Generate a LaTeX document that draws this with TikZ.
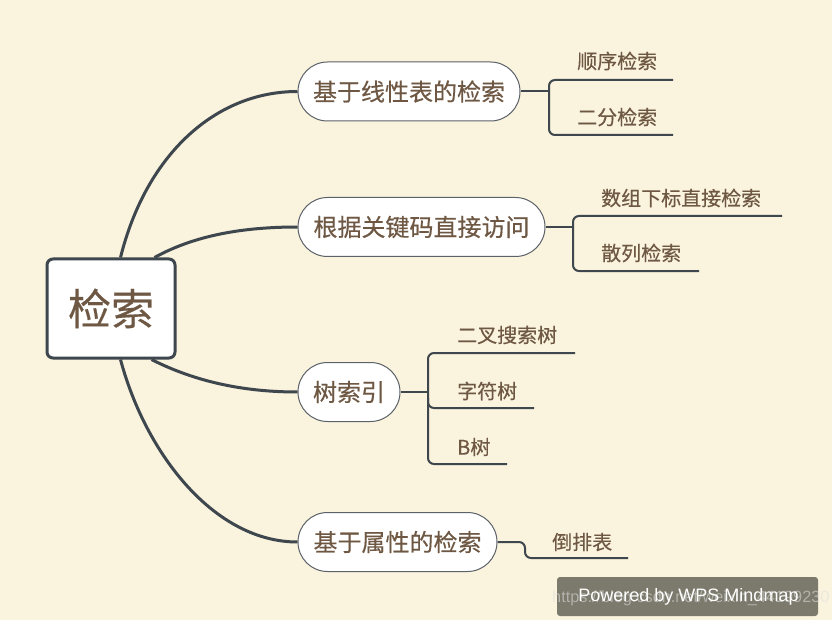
\documentclass[tikz,border=0pt]{standalone}
\usepackage{fontspec}
\setmainfont{Noto Sans CJK SC}[FakeBold=0.35]
\newfontfamily\latinfont{Liberation Sans}
\usetikzlibrary{calc}
\definecolor{bg}{HTML}{FAF3DD}
\definecolor{txt}{HTML}{6E5843}
\definecolor{ln}{HTML}{3E464E}
\definecolor{wmbox}{HTML}{7C7A6C}
\begin{document}
\begin{tikzpicture}[x=1pt,y=-1pt,
  rootbox/.style={draw=ln, line width=3pt, fill=white, rounded corners=6pt, text=txt,
     font=\fontsize{43}{43}\selectfont, inner sep=0pt, minimum width=128pt, minimum height=99pt},
  pill/.style={draw=ln!85, line width=1pt, fill=white, rounded corners=29.5pt, text=txt,
     font=\fontsize{24}{24}\selectfont, inner sep=0pt, minimum height=59pt},
  leaf/.style={text=txt, font=\fontsize{20}{20}\selectfont, inner sep=0pt, anchor=west},
  branch/.style={draw=ln, line width=3pt},
  leafline/.style={draw=ln, line width=2pt, rounded corners=6pt}]
\fill[bg] (0,0) rectangle (832,620);
\useasboundingbox (0,0) rectangle (832,620);

% root
\node[rootbox] (root) at (111,308.5) {检索};

% main branches
\node[pill, minimum width=222pt] (p1) at (409,91.5) {基于线性表的检索};
\node[pill, minimum width=247pt] (p2) at (421.5,227) {根据关键码直接访问};
\node[pill, minimum width=102pt] (p3) at (349,392) {树索引};
\node[pill, minimum width=199pt] (p4) at (397.5,542) {基于属性的检索};

\draw[branch] ([xshift=75pt]root.north west) .. controls (146,155) and (215,91.5) .. (p1.west);
\draw[branch] ([xshift=109pt]root.north west) .. controls (190,238) and (235,227) .. (p2.west);
\draw[branch] ([xshift=106pt]root.south west) .. controls (188,378) and (235,392) .. (p3.west);
\draw[branch] ([xshift=75pt]root.south west) .. controls (146,455) and (215,542) .. (p4.west);

% leaves
\node[leaf] (l11) at (577,61) {顺序检索};
\node[leaf] (l12) at (577,117) {二分检索};
\node[leaf] (l21) at (601,198) {数组下标直接检索};
\node[leaf] (l22) at (601,253) {散列检索};
\node[leaf] (l31) at (457,335) {二叉搜索树};
\node[leaf] (l32) at (457,391) {字符树};
\node[leaf] (l33) at (457,447) {B树};
\node[leaf] (l41) at (552,542) {倒排表};

% leaf connectors
\coordinate (b1) at (549,91.5);
\draw[leafline] (p1.east) -- (b1);
\draw[leafline] (673,80) -- (549,80) -- (549,135) -- (673,135);

\coordinate (b2) at (573,227);
\draw[leafline] (p2.east) -- (b2);
\draw[leafline] (782,216) -- (573,216) -- (573,271) -- (699,271);

\coordinate (b3) at (428,392);
\draw[leafline] (p3.east) -- (b3);
\draw[leafline] (575,353) -- (428,353) -- (428,464) -- (507,464);
\draw[leafline] (428,398) -- (428,408) -- (534,408);

\coordinate (b4) at (525,542);
\draw[leafline] (p4.east) -- (b4) -- (525,558) -- (628,558);

% watermark
\fill[wmbox, rounded corners=3pt] (557,577) rectangle (818,616);
\node[text=white!75!gray, opacity=0.55, font=\latinfont\fontsize{16.3}{16.3}\selectfont, inner sep=0pt, anchor=west] (url) at (552,598) {https://blog.csdn.net/weixin\_44199230};
\node[text=white, font=\latinfont\fontsize{18}{18}\selectfont, inner sep=0pt] (wm) at (688.5,597) {Powered by WPS Mindmap};
\end{tikzpicture}
\end{document}
